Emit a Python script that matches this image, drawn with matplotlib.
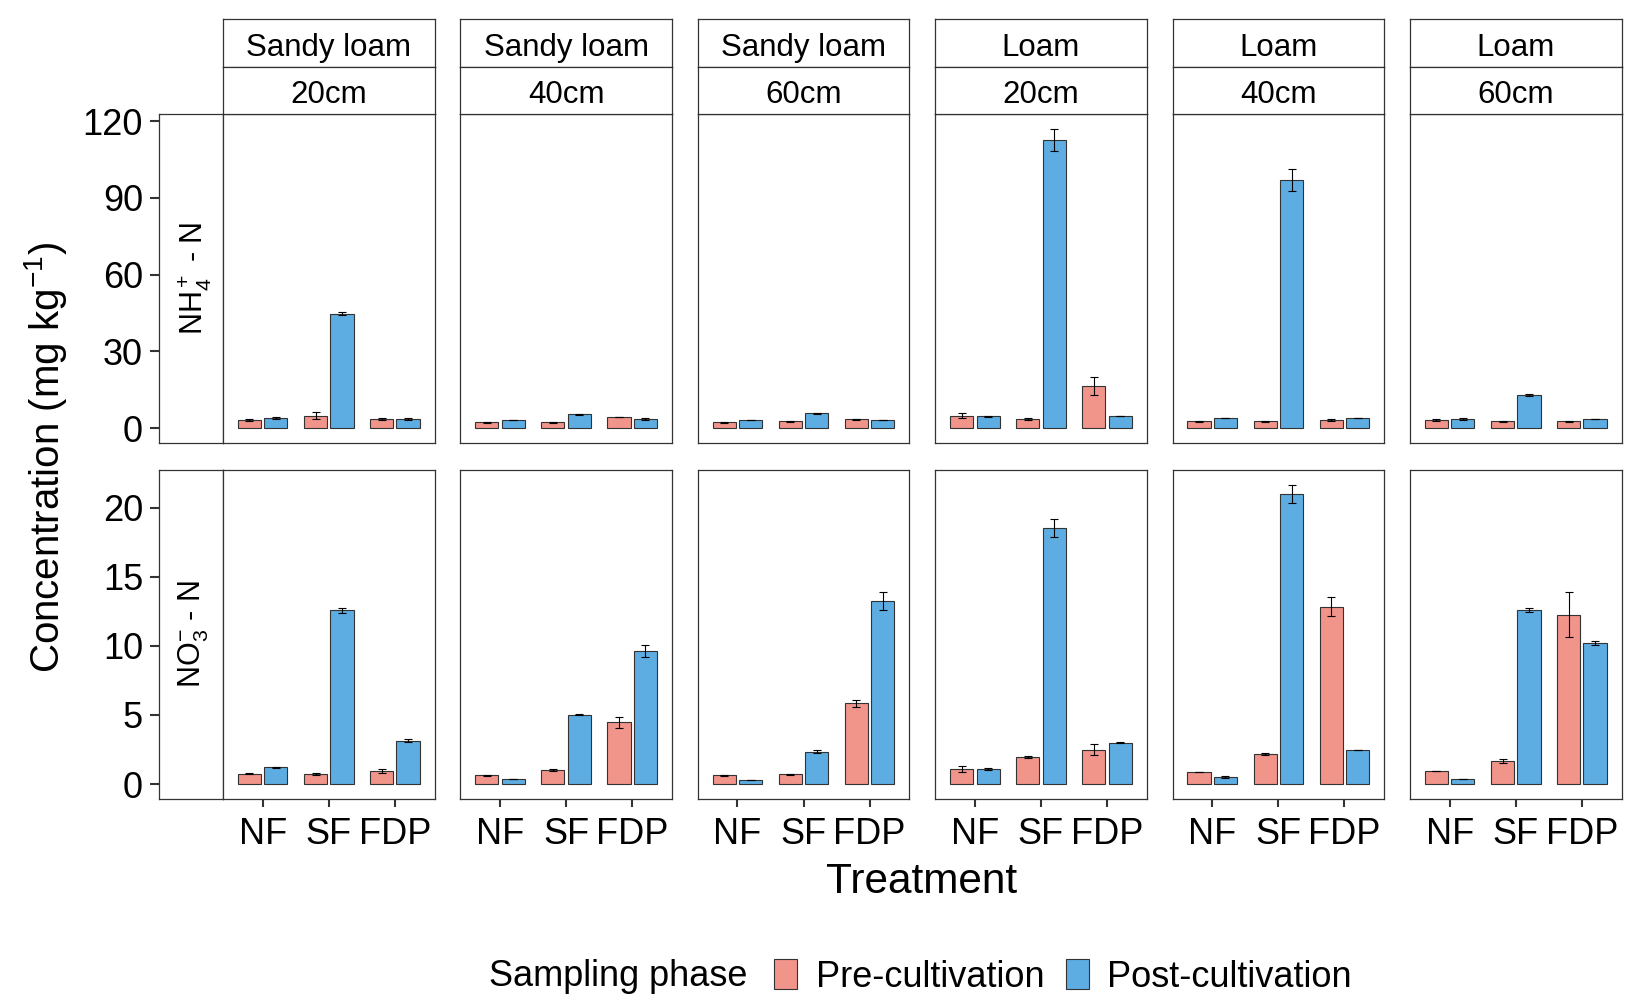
import matplotlib
matplotlib.use('Agg')
import matplotlib.pyplot as plt
import numpy as np
from matplotlib.patches import Patch

plt.rcParams['font.family'] = ['Liberation Sans', 'DejaVu Sans']
plt.rcParams['mathtext.fontset'] = 'custom'
plt.rcParams['mathtext.rm'] = 'Liberation Sans'
plt.rcParams['mathtext.it'] = 'Liberation Sans:italic'
plt.rcParams['mathtext.bf'] = 'Liberation Sans:bold'

# ---------------- data ----------------
treatments = ['NF', 'SF', 'FDP']
textures = ['Sandy loam', 'Sandy loam', 'Sandy loam', 'Loam', 'Loam', 'Loam']
depths = ['20cm', '40cm', '60cm', '20cm', '40cm', '60cm']
phases = ['Pre-cultivation', 'Post-cultivation']
row_labels = [r'NH$_4^+$ - N', r'NO$_3^{-}$ - N']

nh4_pre = [[3.2, 4.9, 3.5], [2.2, 2.2, 4.4], [2.2, 2.6, 3.5],
           [4.8, 3.5, 16.5], [2.6, 2.6, 3.2], [3.1, 2.6, 2.6]]
nh4_pre_se = [[0.4, 1.2, 0.3], [0.1, 0.1, 0.1], [0.1, 0.1, 0.2],
              [0.9, 0.4, 3.6], [0.2, 0.1, 0.3], [0.4, 0.1, 0.3]]
nh4_post = [[4.0, 44.7, 3.6], [3.1, 5.3, 3.5], [3.1, 5.7, 3.1],
            [4.6, 112.5, 4.8], [3.9, 96.9, 3.9], [3.5, 13.0, 3.5]]
nh4_post_se = [[0.3, 0.5, 0.3], [0.1, 0.1, 0.3], [0.1, 0.2, 0.1],
               [0.3, 4.4, 0.1], [0.1, 4.4, 0.1], [0.3, 0.5, 0.1]]

no3_pre = [[0.76, 0.72, 0.94], [0.62, 1.03, 4.47], [0.62, 0.72, 5.84],
           [1.10, 1.95, 2.50], [0.86, 2.18, 12.83], [0.94, 1.68, 12.26]]
no3_pre_se = [[0.04, 0.08, 0.15], [0.03, 0.05, 0.38], [0.03, 0.03, 0.25],
              [0.20, 0.10, 0.40], [0.02, 0.10, 0.70], [0.03, 0.15, 1.65]]
no3_post = [[1.20, 12.57, 3.14], [0.38, 5.02, 9.63], [0.29, 2.35, 13.24],
            [1.10, 18.55, 3.00], [0.50, 21.00, 2.47], [0.36, 12.57, 10.21]]
no3_post_se = [[0.04, 0.20, 0.12], [0.02, 0.05, 0.43], [0.02, 0.10, 0.67],
               [0.05, 0.67, 0.05], [0.05, 0.65, 0.02], [0.02, 0.15, 0.15]]

y_ticks = [[0, 30, 60, 90, 120], [0, 5, 10, 15, 20]]

# ---------------- style ----------------
pre_col = '#F1948A'
post_col = '#5DADE2'
line_col = '#333333'

W, H = 1637, 1006
fig = plt.figure(figsize=(W / 100, H / 100), dpi=100)


def add_ax(x0, y0, x1, y1):
    return fig.add_axes([x0 / W, 1 - y1 / H, (x1 - x0) / W, (y1 - y0) / H])


panel_w = 211.5
col_left = [223 + 237.4 * i for i in range(6)]
col_right = [l + panel_w for l in col_left]
row_top = [114, 470]
row_bot = [443, 799]
strip_x = (159, 223)
strip_rows = [(19, 67), (67, 114)]

data_rows = [(nh4_pre, nh4_pre_se, nh4_post, nh4_post_se),
             (no3_pre, no3_pre_se, no3_post, no3_post_se)]


def style_box(ax):
    for s in ax.spines.values():
        s.set_color(line_col)
        s.set_linewidth(0.9)


for r in range(2):
    pre, pre_se, post, post_se = data_rows[r]
    dmax = max(max(max(a + b for a, b in zip(pre[c], pre_se[c])),
                   max(a + b for a, b in zip(post[c], post_se[c])))
               for c in range(6))
    ylim = (-0.05 * dmax, 1.05 * dmax)

    # left strip with y axis
    axs = add_ax(strip_x[0], row_top[r], strip_x[1], row_bot[r])
    axs.set_ylim(*ylim)
    axs.set_xticks([])
    axs.set_yticks(y_ticks[r])
    axs.set_yticklabels([str(v) for v in y_ticks[r]])
    axs.tick_params(axis='y', length=6.5, width=1.5, color=line_col,
                    labelsize=26, pad=5, labelcolor='black')
    style_box(axs)
    axs.text(0.55, 0.5, row_labels[r], rotation=90, transform=axs.transAxes,
             ha='center', va='center', fontsize=22)

    for c in range(6):
        ax = add_ax(col_left[c], row_top[r], col_right[c], row_bot[r])
        x = np.arange(1, len(treatments) + 1)
        ax.bar(x - 0.2, pre[c], width=0.35, color=pre_col,
               edgecolor=line_col, linewidth=0.8, zorder=2)
        ax.bar(x + 0.2, post[c], width=0.35, color=post_col,
               edgecolor=line_col, linewidth=0.8, zorder=2)
        ax.errorbar(x - 0.2, pre[c], yerr=pre_se[c], fmt='none',
                    ecolor='black', elinewidth=0.8, capsize=2.9,
                    capthick=0.8, zorder=3)
        ax.errorbar(x + 0.2, post[c], yerr=post_se[c], fmt='none',
                    ecolor='black', elinewidth=0.8, capsize=2.9,
                    capthick=0.8, zorder=3)
        ax.set_xlim(0.4, 3.6)
        ax.set_ylim(*ylim)
        ax.set_yticks([])
        style_box(ax)
        if r == 1:
            ax.set_xticks(x)
            ax.set_xticklabels(treatments)
            ax.tick_params(axis='x', length=5.5, width=1.5, color=line_col,
                           labelsize=26, pad=7.5, labelcolor='black')
        else:
            ax.set_xticks([])

# top strips
for c in range(6):
    for k, txt in enumerate([textures[c], depths[c]]):
        sa = add_ax(col_left[c], strip_rows[k][0], col_right[c], strip_rows[k][1])
        sa.set_xticks([])
        sa.set_yticks([])
        style_box(sa)
        sa.text(0.5, 0.40, txt, transform=sa.transAxes, ha='center',
                va='center', fontsize=22.5)

fig.text(46 / W, 1 - 457 / H, r'Concentration (mg kg$^{-1}$)', rotation=90,
         ha='center', va='center', fontsize=29)
fig.text(922 / W, 1 - 882 / H, 'Treatment', ha='center', va='center',
         fontsize=30.5)

fig.text(747 / W, 1 - 977 / H, 'Sampling phase', ha='right', va='center',
         fontsize=26)
handles = [Patch(facecolor=pre_col, edgecolor=line_col, linewidth=0.8,
                 label=phases[0]),
           Patch(facecolor=post_col, edgecolor=line_col, linewidth=0.8,
                 label=phases[1])]
fig.legend(handles=handles, ncol=2, loc='center left',
           bbox_to_anchor=(774 / W, 1 - 977 / H), frameon=False, fontsize=26,
           handlelength=0.65, handleheight=0.9, handletextpad=0.5,
           columnspacing=0.6, borderaxespad=0, borderpad=0)

fig.savefig('out.png', dpi=100, facecolor='white')
